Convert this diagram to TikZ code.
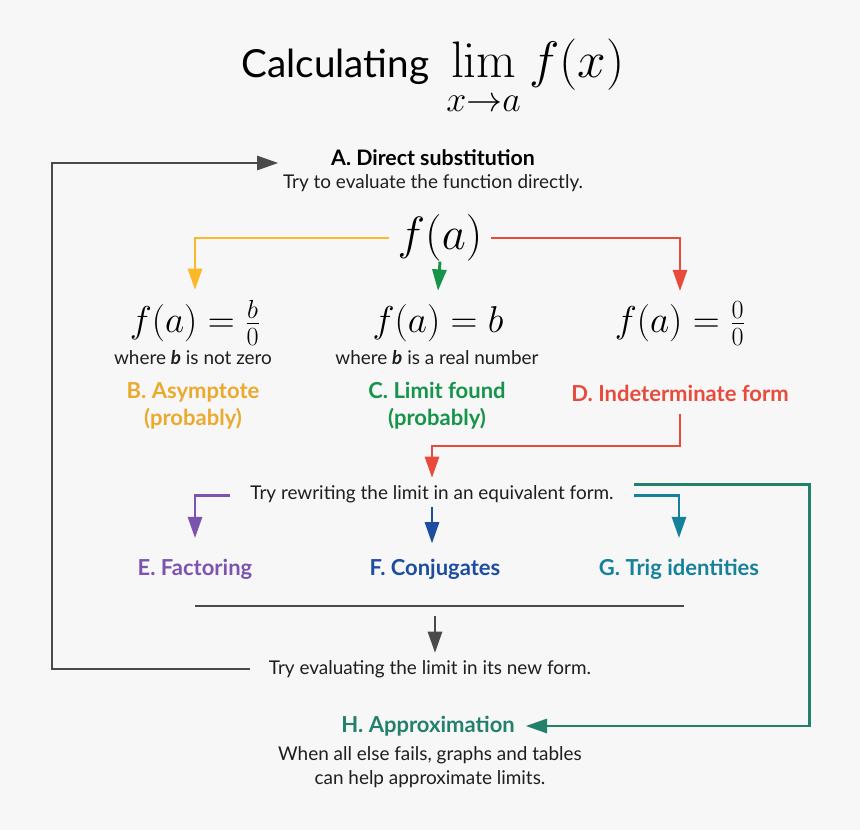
\RequirePackage{fix-cm}
\documentclass[tikz,border=0pt]{standalone}
\usepackage{exscale}
\usepackage[no-math]{fontspec}
\setmainfont{Lato}
\usepackage{tikz}
\usetikzlibrary{positioning,arrows.meta,calc}
\definecolor{PageGray}{HTML}{F7F7F7}
\definecolor{InkDark}{HTML}{1E1E1E}
\definecolor{LoopGray}{HTML}{4A4A4A}
\definecolor{AsymArrow}{HTML}{FBB829}
\definecolor{AsymText}{HTML}{EBA92D}
\definecolor{FoundGreen}{HTML}{15944A}
\definecolor{IndetRed}{HTML}{E84B3C}
\definecolor{FactorPurple}{HTML}{7C53AE}
\definecolor{ConjBlue}{HTML}{1C4DA1}
\definecolor{TrigTeal}{HTML}{15819B}
\definecolor{ApproxGreen}{HTML}{23806B}

\begin{document}
\begin{tikzpicture}[x=0.75pt,y=-0.75pt,
    head/.style={font=\fontsize{16}{19}\selectfont\bfseries,text=black},
    note/.style={font=\fontsize{14.2}{17.5}\selectfont,text=InkDark,align=center},
    tag/.style={font=\fontsize{16.5}{20.5}\selectfont\bfseries,align=center},
    eqn/.style={anchor=base,font=\fontsize{28}{30}\selectfont,inner sep=7.5pt},
    flow/.style={line width=2.2pt,-{Triangle[length=16pt,width=10.5pt]}},
    rule/.style={line width=2.2pt,LoopGray}]
    \fill[PageGray] (0,0) rectangle (860,830);
    \useasboundingbox (0,0) rectangle (860,830);

    % title
    \node[anchor=base] (title) at (433,78) {\fontsize{29}{32}\selectfont Calculating\hspace{13pt}\fontsize{38.5}{42}\selectfont$\displaystyle\lim_{\rule{0pt}{21pt}x\to a} f(x)$};

    % A
    \node[head] (subst) at (433,158) {A. Direct substitution};
    \node[note] (substtxt) at (433,183) {Try to evaluate the function directly.};
    \node[font=\fontsize{35}{38}\selectfont,inner xsep=6pt,inner ysep=0pt] (fa) at (440,238) {$f(a)$};

    % B, C, D
    \node[eqn] (asym) at (195,333) {$f(a)=\frac{b}{0}$};
    \node[eqn] (found) at (438,333) {$f(a)=b$};
    \node[eqn] (indet) at (680,333) {$f(a)=\frac{0}{0}$};
    \node[note] (asymtxt) at (193,358) {where \textbf{\textit{b}} is not zero};
    \node[note] (foundtxt) at (437,358) {where \textbf{\textit{b}} is a real number};
    \node[tag,text=AsymText] (asymtag) at (193,406) {B. Asymptote\\(probably)};
    \node[tag,text=FoundGreen] (foundtag) at (437,406) {C. Limit found\\(probably)};
    \node[tag,text=IndetRed] (indettag) at (680,393) {D. Indeterminate form};

    \draw[flow,AsymArrow] (fa.west) -| (asym.north);
    \draw[flow,FoundGreen] (fa.south) -- ([yshift=3pt]found.north);
    \draw[flow,IndetRed] (fa.east) -| (indet.north);

    % rewriting
    \node[note,inner xsep=15pt] (rewrite) at (432,494) {Try rewriting the limit in an equivalent form.};
    \draw[flow,IndetRed,shorten <=6pt,shorten >=2pt] (indettag.south) -- ++(0,40) -| (rewrite.north);

    \node[tag,text=FactorPurple] (factor) at (195,569) {E. Factoring};
    \node[tag,text=ConjBlue] (conj) at (435,569) {F. Conjugates};
    \node[tag,text=TrigTeal] (trig) at (679,569) {G. Trig identities};

    \draw[flow,FactorPurple,shorten >=12pt] ([yshift=-1pt]rewrite.west) -| (factor.north);
    \draw[flow,ConjBlue,shorten >=8pt] (rewrite.south) -- (conj.north -| rewrite.south);
    \draw[flow,TrigTeal,shorten >=12pt] ([yshift=-1pt]rewrite.east) -| (trig.north);

    % new form
    \coordinate (join) at (435,606);
    \draw[rule] (join -| factor) -- ([xshift=4pt]join -| trig);
    \node[note,inner xsep=14pt] (neweval) at (430,669) {Try evaluating the limit in its new form.};
    \draw[flow,LoopGray,shorten >=2pt] ([yshift=-7.5pt]join) -- (neweval.north -| join);

    \coordinate (back) at (52,163);
    \draw[flow,LoopGray] (neweval.west) -| (back) -- (back -| substtxt.west);

    % H
    \node[tag,text=ApproxGreen,inner xsep=8pt] (approx) at (428,726) {H. Approximation};
    \node[note] (approxtxt) at (430,767) {When all else fails, graphs and tables\\can help approximate limits.};
    \draw[flow,ApproxGreen] ([yshift=7pt]rewrite.east) -- ++(176,0) |- (approx.east);
\end{tikzpicture}
\end{document}
